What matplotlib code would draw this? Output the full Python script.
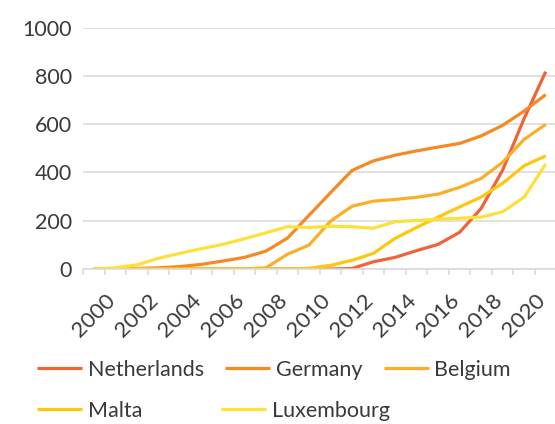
import matplotlib
matplotlib.use("Agg")
import matplotlib.pyplot as plt
import numpy as np

plt.rcParams['font.family'] = ['Lato', 'DejaVu Sans']

years = list(range(2000, 2022))
netherlands = [0, 0, 0, 0, 0, 0, 0, 0, 0, 0, 0, 0, 2, 30, 48, 76, 102, 152, 251, 410, 624, 817]
germany = [0, 0, 2, 5, 10, 19, 33, 48, 74, 128, 222, 316, 408, 448, 471, 489, 505, 520, 551, 595, 654, 722]
belgium = [0, 0, 0, 0, 0, 0, 0, 0, 5, 61, 99, 198, 260, 281, 288, 297, 310, 338, 375, 442, 537, 599]
malta = [0, 0, 0, 0, 0, 0, 0, 0, 0, 0, 3, 15, 36, 65, 127, 172, 215, 257, 298, 355, 428, 468]
luxembourg = [0, 5, 17, 44, 65, 84, 102, 125, 150, 175, 172, 177, 175, 169, 196, 201, 206, 210, 215, 237, 298, 435]

names = ['Netherlands', 'Germany', 'Belgium', 'Malta', 'Luxembourg']
series = [netherlands, germany, belgium, malta, luxembourg]
colors = ['#f0633a', '#f58a25', '#fbae2a', '#fdc70e', '#fde03a']
txt = '#3a3a3a'

W, H = 555, 424
fig = plt.figure(figsize=(W / 100, H / 100), dpi=100)
ax = fig.add_axes([83 / W, 1 - 269 / H, (556.5 - 83) / W, (269 - 27.5) / H])

lines = []
for name, vals, c in zip(names, series, colors):
    ln, = ax.plot(years, vals, color=c, lw=2.3, solid_capstyle='butt', label=name)
    lines.append(ln)

ax.set_xlim(1999.5, 2021.5)
ax.set_ylim(0, 1000)
ax.set_yticks(range(0, 1001, 200))
ax.set_xticks(years[::2])
ax.set_xticks(np.arange(1999.5, 2022, 1), minor=True)
ax.grid(axis='y', color='#d9d9d9', lw=1.1)
ax.set_axisbelow(True)
for s in ['left', 'right', 'top']:
    ax.spines[s].set_visible(False)
ax.spines['bottom'].set_color('#d9d9d9')
ax.spines['bottom'].set_linewidth(1.1)
ax.tick_params(axis='y', length=0, pad=8, labelsize=15.5, labelcolor=txt)
ax.tick_params(axis='x', which='major', length=0, pad=15, labelsize=16, labelcolor=txt)
ax.tick_params(axis='x', which='minor', length=4, width=1.1, color='#d9d9d9')
for lab in ax.get_xticklabels():
    lab.set_rotation(45)
    lab.set_ha('center')
    lab.set_va('top')

# legend rows placed separately to match the reference spacing
leg_kw = dict(loc='center left', frameon=False, fontsize=15.5, handlelength=2.1,
              handletextpad=0.25, borderpad=0, borderaxespad=0, labelcolor=txt)
fig.legend(lines[:3], names[:3], bbox_to_anchor=(37 / W, 1 - 370 / H), ncol=3,
           columnspacing=1.0, **leg_kw)
fig.legend(lines[3:], names[3:], bbox_to_anchor=(37 / W, 1 - 411 / H), ncol=2,
           columnspacing=3.67, **leg_kw)

fig.savefig('out.png', dpi=100)
